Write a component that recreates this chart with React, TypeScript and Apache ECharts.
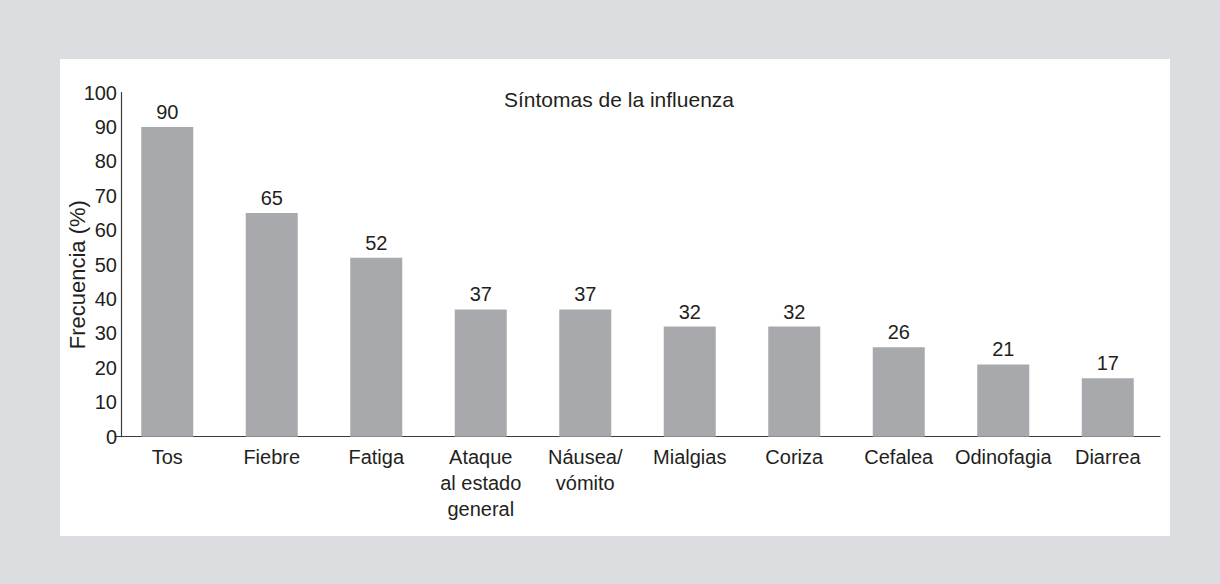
import React, { useEffect, useRef } from "react";
import * as echarts from "echarts";

const categories = ["Tos", "Fiebre", "Fatiga", "Ataque\nal estado\ngeneral", "Náusea/\nvómito", "Mialgias", "Coriza", "Cefalea", "Odinofagia", "Diarrea"];
const values = [90, 65, 52, 37, 37, 32, 32, 26, 21, 17];
const title = "Síntomas de la influenza";
const yName = "Frecuencia (%)";

const TEXT = "#231f20";
const FONT = "Liberation Sans, Arial, Helvetica, sans-serif";

export default function App() {
  const ref = useRef<HTMLDivElement>(null);
  useEffect(() => {
    if (!ref.current) return;
    const chart = echarts.init(ref.current, null, { renderer: "svg" });
    chart.setOption({
      animation: false,
      backgroundColor: "#dcdde0",
      textStyle: { fontFamily: FONT },
      graphic: [
        { type: "rect", shape: { x: 60, y: 59, width: 1110, height: 477 }, style: { fill: "#ffffff" }, z: -10, silent: true },
      ],
      title: {
        text: title,
        left: 614,
        top: 84,
        textAlign: "center",
        textStyle: { fontSize: 21, fontWeight: "normal", color: TEXT, fontFamily: FONT },
      },
      grid: { left: 115, top: 92.6, width: 1045, height: 344.1, containLabel: false },
      xAxis: {
        type: "category",
        data: categories,
        axisLine: { show: true, lineStyle: { color: "#3a3a3a", width: 1.2 } },
        axisTick: { show: false },
        axisLabel: {
          interval: 0,
          color: TEXT,
          fontSize: 20,
          fontFamily: FONT,
          lineHeight: 26,
          margin: 7,
        },
      },
      yAxis: {
        type: "value",
        min: 0,
        max: 100,
        interval: 10,
        offset: -6,
        name: yName,
        nameLocation: "middle",
        nameGap: 33,
        nameMoveOverlap: false,
        nameTextStyle: { fontSize: 22, color: TEXT, fontFamily: FONT, padding: [0, 20, 0, 0] },
        axisLine: { show: true, lineStyle: { color: "#3a3a3a", width: 1.2 } },
        axisTick: { show: false },
        splitLine: { show: false },
        axisLabel: { color: TEXT, fontSize: 20, fontFamily: FONT, margin: 4 },
      },
      series: [
        {
          type: "bar",
          data: values,
          barWidth: 52,
          itemStyle: { color: "#a7a9ac" },
          label: { show: true, position: "top", distance: 5, fontSize: 20, color: TEXT, fontFamily: FONT },
        },
      ],
    });
    return () => chart.dispose();
  }, []);
  return <div ref={ref} style={{ position: "absolute", left: 0, top: 0, width: 1220, height: 584 }} />;
}
